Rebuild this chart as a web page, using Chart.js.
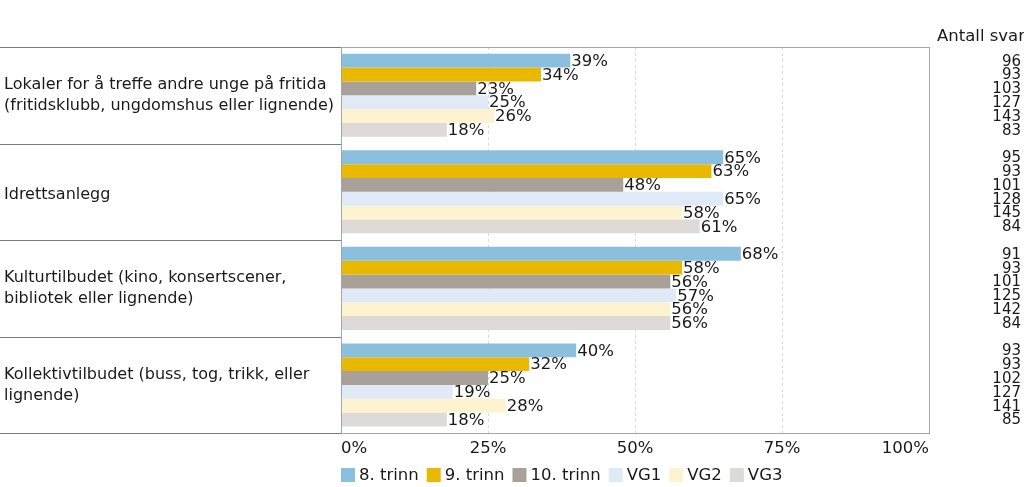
<!DOCTYPE html>
<html>
<head>
<meta charset="utf-8">
<script src="https://cdn.jsdelivr.net/npm/chart.js@4"></script>
<style>
html,body{margin:0;padding:0;background:#fff;}
#wrap{width:1024px;height:487px;position:relative;}
</style>
</head>
<body>
<div id="wrap"><canvas id="c" width="1024" height="487"></canvas></div>
<script>
const categories = [
  ["Lokaler for å treffe andre unge på fritida", "(fritidsklubb, ungdomshus eller lignende)"],
  ["Idrettsanlegg"],
  ["Kulturtilbudet (kino, konsertscener,", "bibliotek eller lignende)"],
  ["Kollektivtilbudet (buss, tog, trikk, eller", "lignende)"]
];
const seriesNames = ["8. trinn", "9. trinn", "10. trinn", "VG1", "VG2", "VG3"];
const seriesColors = ["#8ac0de", "#e9b900", "#a8a19a", "#dfeaf6", "#fdf3d0", "#dddad8"];
const trinn8 = [39, 65, 68, 40];
const trinn9 = [34, 63, 58, 32];
const trinn10 = [23, 48, 56, 25];
const vg1 = [25, 65, 57, 19];
const vg2 = [26, 58, 56, 28];
const vg3 = [18, 61, 56, 18];
const counts8 = [96, 95, 91, 93];
const counts9 = [93, 93, 93, 93];
const counts10 = [103, 101, 101, 102];
const countsVG1 = [127, 128, 125, 127];
const countsVG2 = [143, 145, 142, 141];
const countsVG3 = [83, 84, 84, 85];
const tickValues = [0, 25, 50, 75, 100];
const countHeader = "Antall svar";

const seriesValues = [trinn8, trinn9, trinn10, vg1, vg2, vg3];
const seriesCounts = [counts8, counts9, counts10, countsVG1, countsVG2, countsVG3];

const FONT = "'DejaVu Sans', Verdana, sans-serif";
const TXT = "#1a1a1a";

const extras = {
  id: 'extras',
  afterDatasetsDraw(chart) {
    const ctx = chart.ctx;
    const ca = chart.chartArea;
    const ys = chart.scales.y;
    ctx.save();
    // value labels
    ctx.font = "16.5px " + FONT;
    ctx.fillStyle = TXT;
    ctx.textBaseline = "middle";
    ctx.textAlign = "left";
    chart.data.datasets.forEach((ds, di) => {
      const meta = chart.getDatasetMeta(di);
      meta.data.forEach((bar, i) => {
        ctx.fillText(ds.data[i] + "%", bar.x + 1, bar.y + 1);
      });
    });
    // counts
    ctx.font = "15px " + FONT;
    ctx.textAlign = "right";
    chart.data.datasets.forEach((ds, di) => {
      const meta = chart.getDatasetMeta(di);
      meta.data.forEach((bar, i) => {
        ctx.fillText(String(seriesCounts[di][i]), 1021, bar.y + 1);
      });
    });
    ctx.font = "16.5px " + FONT;
    ctx.fillText(countHeader, 1025, 37);
    // plot border
    ctx.strokeStyle = "#a6a6a6";
    ctx.lineWidth = 1;
    ctx.strokeRect(Math.round(ca.left) + 0.5, Math.round(ca.top) + 0.5, Math.round(ca.right - ca.left), Math.round(ca.bottom - ca.top));
    // left label boxes
    const n = categories.length;
    const step = (ca.bottom - ca.top) / n;
    ctx.strokeStyle = "#7a7a7a";
    for (let k = 0; k <= n; k++) {
      const y = Math.round(ca.top + k * step) + 0.5;
      ctx.beginPath();
      ctx.moveTo(0, y);
      ctx.lineTo(Math.round(ca.left), y);
      ctx.stroke();
    }
    ctx.font = "16px " + FONT;
    ctx.fillStyle = TXT;
    ctx.textAlign = "left";
    categories.forEach((lines, k) => {
      const cy = ys.getPixelForValue(k);
      const lh = 21;
      const y0 = cy - (lines.length - 1) * lh / 2;
      const dy = lines.length === 1 ? 3 : 0;
      lines.forEach((ln, j) => ctx.fillText(ln, 4, y0 + j * lh + dy));
    });
    // legend
    let x = Math.round(ca.left);
    const ly = 475;
    ctx.font = "16.5px " + FONT;
    seriesNames.forEach((nm, i) => {
      ctx.fillStyle = seriesColors[i];
      ctx.fillRect(x, ly - 7, 14, 14);
      ctx.fillStyle = TXT;
      ctx.fillText(nm, x + 18, ly + 1);
      x += 18 + ctx.measureText(nm).width + 8;
    });
    ctx.restore();
  }
};

const chart = new Chart(document.getElementById('c'), {
  type: 'bar',
  data: {
    labels: categories.map(c => c.join(' ')),
    datasets: seriesNames.map((nm, i) => ({
      label: nm,
      data: seriesValues[i],
      backgroundColor: seriesColors[i],
      borderWidth: 0,
      categoryPercentage: 0.86,
      barPercentage: 1.0
    }))
  },
  options: {
    indexAxis: 'y',
    responsive: false,
    animation: false,
    devicePixelRatio: 1,
    layout: { padding: { left: 341, right: 95, top: 47, bottom: 22 } },
    plugins: { legend: { display: false }, tooltip: { enabled: false } },
    scales: {
      y: { display: false },
      x: {
        min: 0, max: 100,
        afterBuildTicks(scale) { scale.ticks = tickValues.map(v => ({ value: v })); },
        grid: {
          drawTicks: false,
          color: (c) => (c.tick && (c.tick.value === 0 || c.tick.value === 100)) ? 'rgba(0,0,0,0)' : '#d9d9d9',
          lineWidth: 1
        },
        border: { display: false, dash: [3, 3] },
        ticks: {
          align: 'inner',
          padding: 6,
          color: TXT,
          font: { family: FONT, size: 16.5 },
          callback: (v) => v + '%'
        }
      }
    }
  },
  plugins: [extras]
});
</script>
</body>
</html>
